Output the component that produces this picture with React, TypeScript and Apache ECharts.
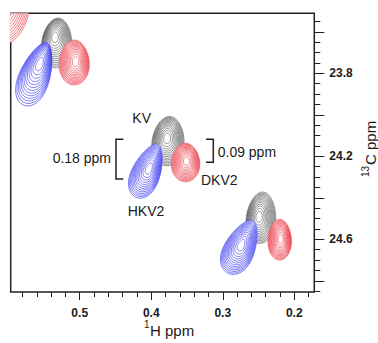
import React, { useEffect, useRef } from 'react';
import * as echarts from 'echarts';

// Axis ticks and labels (ppm)
const xLabelTicks = [0.2, 0.3, 0.4, 0.5];
const xMinorTicks = [0.18, 0.2, 0.22, 0.24, 0.26, 0.28, 0.3, 0.32, 0.34, 0.36, 0.38, 0.4, 0.42, 0.44, 0.46, 0.48, 0.5, 0.52, 0.54, 0.56, 0.58];
const yLabelTicks = [23.8, 24.2, 24.6];
const yMajorTicks = [23.6, 23.8, 24.0, 24.2, 24.4, 24.6, 24.8];
const yMinorTicks = [23.55, 23.6, 23.65, 23.7, 23.75, 23.8, 23.85, 23.9, 23.95, 24.0, 24.05, 24.1, 24.15, 24.2, 24.25, 24.3, 24.35, 24.4, 24.45, 24.5, 24.55, 24.6, 24.65, 24.7, 24.75, 24.8, 24.85];
const xRange = [0.172, 0.5965];
const yRange = [23.511, 24.854];

// Samples (drawing order: KV under, then HKV2, then DKV2)
const samples = ['KV', 'HKV2', 'DKV2'];
const sampleColors = ['#4a4a4a', '#2a2af0', '#ea2430'];
const sampleOpaque = [false, true, true];

// Peaks: centre (1H, 13C ppm), half-widths (ppm), tilt (deg), egg-ness, tail shift of outer contour (ppm)
const peakSample = ['DKV2', 'KV', 'DKV2', 'HKV2', 'KV', 'DKV2', 'HKV2', 'KV', 'DKV2', 'HKV2'];
const peakH = [0.6115, 0.5346, 0.5057, 0.5556, 0.3778, 0.3507, 0.4029, 0.2493, 0.219, 0.2739];
const peakC = [23.447, 23.625, 23.744, 23.752, 24.113, 24.223, 24.258, 24.491, 24.599, 24.627];
const peakHalfH = [0.042, 0.021, 0.021, 0.021, 0.0223, 0.0198, 0.0196, 0.0205, 0.0163, 0.021];
const peakHalfC = [0.217, 0.12, 0.108, 0.16, 0.119, 0.0925, 0.138, 0.124, 0.098, 0.14];
const peakTilt = [0, 5, 0, 20, 5, 0, 22, 5, 0, 25];
const peakEgg = [0, 0.1, 0.08, 0.25, 0.1, 0.08, 0.25, 0.1, 0.08, 0.25];
const peakTailH = [0, -0.0024, 0.002, 0.0063, -0.0014, 0.0013, 0.0032, -0.0028, 0.0014, 0.0014];
const peakTailC = [0, 0.029, 0.004, 0.052, 0.014, 0.007, 0.012, 0.005, 0.003, 0.01];
const contourLevels = 13;

const FONT = '"Liberation Sans", Arial, Helvetica, sans-serif';
const INK = '#1a1a1a';

function makeRenderItem(color: string, opaque: boolean) {
  return (params: any, api: any) => {
    const h = api.value(0);
    const c = api.value(1);
    const wh = api.value(2);
    const wc = api.value(3);
    const t = (api.value(4) * Math.PI) / 180;
    const egg = api.value(5);
    const th = api.value(6);
    const tc = api.value(7);
    const p0 = api.coord([h, c]);
    const pt = api.coord([h + th, c + tc]);
    const ox = pt[0] - p0[0];
    const oy = pt[1] - p0[1];
    const sz = api.size([wh * 2, wc * 2], [h, c]);
    const a = Math.abs(sz[0]) / 2;
    const b = Math.abs(sz[1]) / 2;
    const children: any[] = [];
    const M = 60;
    for (let k = 0; k < contourLevels; k++) {
      const s = Math.pow(1 - k / contourLevels, 0.6);
      const cx = p0[0] + ox * s * s;
      const cy = p0[1] + oy * s * s;
      const pts: number[][] = [];
      for (let j = 0; j < M; j++) {
        const phi = (2 * Math.PI * j) / M;
        const x = a * s * Math.cos(phi) * (1 + egg * Math.sin(phi));
        const y = b * s * Math.sin(phi);
        pts.push([cx + x * Math.cos(t) - y * Math.sin(t), cy + x * Math.sin(t) + y * Math.cos(t)]);
      }
      children.push({
        type: 'polygon',
        shape: { points: pts },
        style: { fill: opaque && k === 0 ? '#ffffff' : 'none', stroke: color, lineWidth: 0.6 },
      });
    }
    return { type: 'group', children };
  };
}

export default function App() {
  const ref = useRef<HTMLDivElement>(null);
  useEffect(() => {
    document.body.style.margin = '0';
    const chart = echarts.init(ref.current!, null, { renderer: 'svg' });

    const series = samples.map((name, si) => ({
      type: 'custom',
      name,
      xAxisIndex: 0,
      yAxisIndex: 0,
      clip: true,
      silent: true,
      encode: { x: 0, y: 1 },
      renderItem: makeRenderItem(sampleColors[si], sampleOpaque[si]),
      data: peakSample
        .map((p, i) =>
          p === name ? [peakH[i], peakC[i], peakHalfH[i], peakHalfC[i], peakTilt[i], peakEgg[i], peakTailH[i], peakTailC[i]] : null
        )
        .filter((d) => d !== null),
    }));

    const tickLabel = { fontFamily: FONT, fontSize: 12, fontWeight: 'bold', color: INK };

    chart.setOption({
      animation: false,
      grid: { left: 10.7, right: 63.7, top: 13.3, bottom: 51, show: true, borderColor: '#222', borderWidth: 1.5, backgroundColor: 'transparent' },
      xAxis: [
        {
          type: 'value', position: 'bottom', inverse: true, min: xRange[0], max: xRange[1],
          axisLine: { show: false }, splitLine: { show: false },
          axisTick: { show: true, length: 8, customValues: xLabelTicks, lineStyle: { color: '#222', width: 1 } },
          axisLabel: { show: true, customValues: xLabelTicks, margin: 15, formatter: (v: number) => v.toFixed(1), ...tickLabel },
        },
        {
          type: 'value', position: 'bottom', inverse: true, min: xRange[0], max: xRange[1],
          axisLine: { show: false }, splitLine: { show: false },
          axisTick: { show: true, length: 5, customValues: xMinorTicks, lineStyle: { color: '#222', width: 1 } },
          axisLabel: { show: false },
        },
      ],
      yAxis: [
        {
          type: 'value', position: 'right', inverse: true, min: yRange[0], max: yRange[1],
          axisLine: { show: false }, splitLine: { show: false },
          axisTick: { show: true, length: 10, customValues: yMajorTicks, lineStyle: { color: '#222', width: 1 } },
          axisLabel: { show: true, customValues: yLabelTicks, margin: 15, formatter: (v: number) => v.toFixed(1), ...tickLabel },
        },
        {
          type: 'value', position: 'right', inverse: true, min: yRange[0], max: yRange[1],
          axisLine: { show: false }, splitLine: { show: false },
          axisTick: { show: true, length: 6, customValues: yMinorTicks, lineStyle: { color: '#222', width: 1 } },
          axisLabel: { show: false },
        },
      ],
      series,
      graphic: [
        // x-axis title: 1H ppm
        { type: 'text', x: 150, y: 330, style: { text: 'H ppm', font: `15px ${FONT}`, fill: INK, textAlign: 'left', textVerticalAlign: 'middle' } },
        { type: 'text', x: 144, y: 324, style: { text: '1', font: `10px ${FONT}`, fill: INK, textAlign: 'left', textVerticalAlign: 'middle' } },
        // y-axis title: 13C ppm (rotated)
        {
          type: 'group', x: 370, y: 151, rotation: Math.PI / 2,
          children: [
            { type: 'text', x: -14, y: 0, style: { text: 'C ppm', font: `15px ${FONT}`, fill: INK, textAlign: 'left', textVerticalAlign: 'middle' } },
            { type: 'text', x: -26, y: -5, style: { text: '13', font: `10px ${FONT}`, fill: INK, textAlign: 'left', textVerticalAlign: 'middle' } },
          ],
        },
        // annotations
        { type: 'text', x: 141.7, y: 118.3, style: { text: 'KV', font: `14px ${FONT}`, fill: INK, textAlign: 'center', textVerticalAlign: 'middle' } },
        { type: 'text', x: 111, y: 158, style: { text: '0.18 ppm', font: `14px ${FONT}`, fill: INK, textAlign: 'right', textVerticalAlign: 'middle' } },
        { type: 'text', x: 217.7, y: 152.3, style: { text: '0.09 ppm', font: `14px ${FONT}`, fill: INK, textAlign: 'left', textVerticalAlign: 'middle' } },
        { type: 'text', x: 201, y: 180, style: { text: 'DKV2', font: `14px ${FONT}`, fill: INK, textAlign: 'left', textVerticalAlign: 'middle' } },
        { type: 'text', x: 146, y: 211, style: { text: 'HKV2', font: `14px ${FONT}`, fill: INK, textAlign: 'center', textVerticalAlign: 'middle' } },
        { type: 'polyline', shape: { points: [[123.3, 139.3], [116, 139.3], [116, 179], [123.3, 179]] }, style: { stroke: '#222', lineWidth: 1.5, fill: 'none' } },
        { type: 'polyline', shape: { points: [[206, 139.3], [213.3, 139.3], [213.3, 162.3], [206, 162.3]] }, style: { stroke: '#222', lineWidth: 1.5, fill: 'none' } },
      ],
    });
    return () => chart.dispose();
  }, []);
  return <div ref={ref} style={{ width: 378, height: 343 }} />;
}
